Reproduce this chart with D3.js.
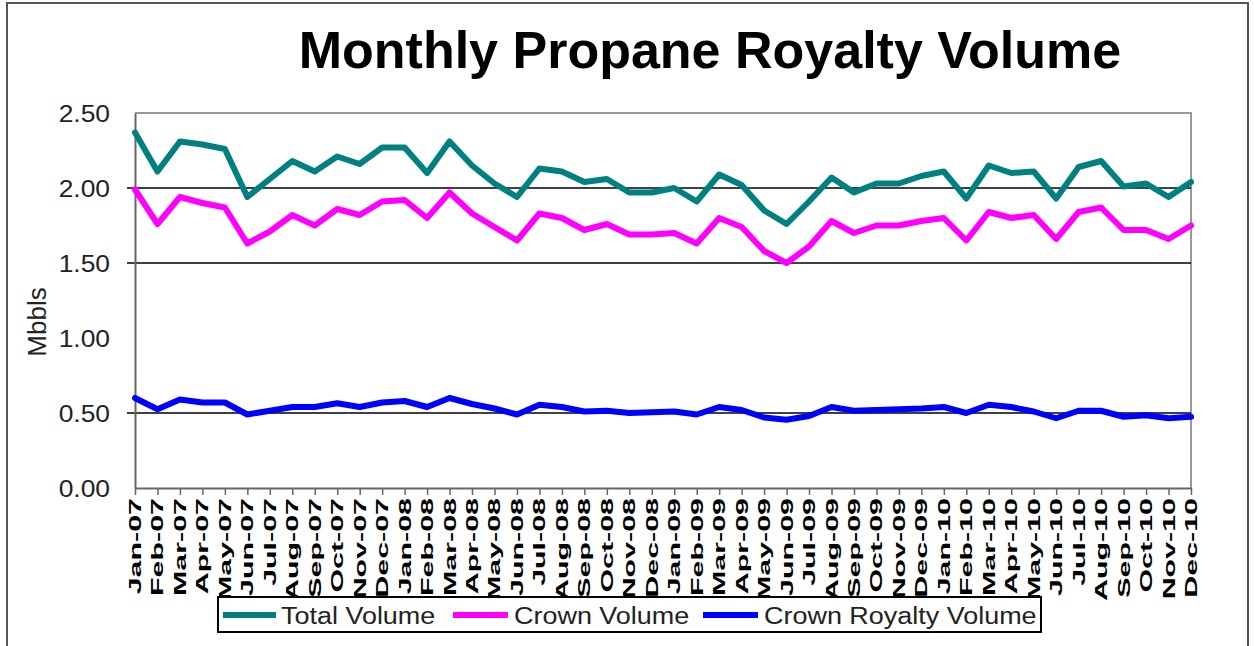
<!DOCTYPE html>
<html>
<head>
<meta charset="utf-8">
<script src="https://cdn.jsdelivr.net/npm/d3@7"></script>
<style>
  html, body { margin: 0; padding: 0; background: #fff; }
  svg { display: block; }
  text { font-family: "Liberation Sans", Arial, sans-serif; }
</style>
</head>
<body>
<div id="chart"></div>
<script>
let width = 1254,
    height = 646;

// monthly categories Jan-07 .. Dec-10
let months = ["Jan-07", "Feb-07", "Mar-07", "Apr-07", "May-07", "Jun-07", "Jul-07", "Aug-07", "Sep-07", "Oct-07", "Nov-07", "Dec-07",
    "Jan-08", "Feb-08", "Mar-08", "Apr-08", "May-08", "Jun-08", "Jul-08", "Aug-08", "Sep-08", "Oct-08", "Nov-08", "Dec-08",
    "Jan-09", "Feb-09", "Mar-09", "Apr-09", "May-09", "Jun-09", "Jul-09", "Aug-09", "Sep-09", "Oct-09", "Nov-09", "Dec-09",
    "Jan-10", "Feb-10", "Mar-10", "Apr-10", "May-10", "Jun-10", "Jul-10", "Aug-10", "Sep-10", "Oct-10", "Nov-10", "Dec-10"];

let totalVolume = [2.37, 2.11, 2.31, 2.29, 2.26, 1.94, 2.06, 2.18, 2.11, 2.21, 2.16, 2.27,
    2.27, 2.10, 2.31, 2.15, 2.03, 1.94, 2.13, 2.11, 2.04, 2.06, 1.97, 1.97,
    2.00, 1.91, 2.09, 2.02, 1.85, 1.76, 1.91, 2.07, 1.97, 2.03, 2.03, 2.08,
    2.11, 1.93, 2.15, 2.10, 2.11, 1.93, 2.14, 2.18, 2.01, 2.03, 1.94, 2.04];

let crownVolume = [1.99, 1.76, 1.94, 1.90, 1.87, 1.63, 1.71, 1.82, 1.75, 1.86, 1.82, 1.91,
    1.92, 1.80, 1.97, 1.83, 1.74, 1.65, 1.83, 1.80, 1.72, 1.76, 1.69, 1.69,
    1.70, 1.63, 1.80, 1.74, 1.58, 1.50, 1.61, 1.78, 1.70, 1.75, 1.75, 1.78,
    1.80, 1.65, 1.84, 1.80, 1.82, 1.66, 1.84, 1.87, 1.72, 1.72, 1.66, 1.75];

let crownRoyaltyVolume = [0.60, 0.525, 0.59, 0.57, 0.57, 0.49, 0.515, 0.54, 0.54, 0.565, 0.54, 0.57,
    0.58, 0.54, 0.60, 0.56, 0.53, 0.49, 0.555, 0.54, 0.51, 0.515, 0.50, 0.505,
    0.51, 0.49, 0.54, 0.52, 0.47, 0.455, 0.48, 0.54, 0.515, 0.52, 0.525, 0.53,
    0.54, 0.50, 0.555, 0.54, 0.51, 0.465, 0.515, 0.515, 0.475, 0.485, 0.465, 0.475];

let yTicks = [0, 0.5, 1.0, 1.5, 2.0, 2.5];
let gridValues = [0.5, 1.5, 2.0];

let series = [
    {name: "Total Volume", values: totalVolume, color: "#008080"},
    {name: "Crown Volume", values: crownVolume, color: "#ff00ff"},
    {name: "Crown Royalty Volume", values: crownRoyaltyVolume, color: "#0000ff"}
];

let plot = {left: 135, right: 1191, top: 113, bottom: 488};

let svg = d3.select("#chart").append("svg")
    .attr("width", width)
    .attr("height", height);

// outer frame
svg.append("rect")
    .attr("x", 7).attr("y", 3)
    .attr("width", 1241).attr("height", 670)
    .attr("fill", "none")
    .attr("stroke", "#555")
    .attr("stroke-width", 2);

let x = d3.scalePoint()
    .domain(months)
    .range([plot.left, plot.right]);

let y = d3.scaleLinear()
    .domain([0, 2.5])
    .range([plot.bottom, plot.top]);

// title
svg.append("text")
    .attr("x", 710)
    .attr("y", 68)
    .attr("text-anchor", "middle")
    .attr("font-size", 52)
    .attr("font-weight", "bold")
    .attr("fill", "#000")
    .text("Monthly Propane Royalty Volume");

// plot frame (top and right)
svg.append("path")
    .attr("d", "M" + plot.left + "," + plot.top + "H" + plot.right + "V" + plot.bottom)
    .attr("fill", "none")
    .attr("stroke", "#999")
    .attr("stroke-width", 2);

// gridlines
svg.selectAll(".grid")
    .data(gridValues)
    .enter().append("line")
    .attr("class", "grid")
    .attr("x1", plot.left - 8)
    .attr("x2", plot.right)
    .attr("y1", d => y(d))
    .attr("y2", d => y(d))
    .attr("stroke", "#000")
    .attr("stroke-width", 1.5);

// y axis
let yAxis = svg.append("g")
    .attr("transform", "translate(" + plot.left + ",0)")
    .call(d3.axisLeft(y).tickValues(yTicks).tickSize(0).tickPadding(25).tickFormat(d3.format(".2f")));
yAxis.select(".domain").attr("stroke", "#666").attr("stroke-width", 2);
yAxis.selectAll("text")
    .attr("font-size", 24)
    .attr("fill", "#222")
    .attr("font-family", "Liberation Sans, Arial, sans-serif")
    .attr("dy", "0.36em")
    .attr("transform", "translate(-25,0) scale(1.1,1) translate(25,0)");

// y axis title
svg.append("text")
    .attr("transform", "translate(46,322) rotate(-90)")
    .attr("text-anchor", "middle")
    .attr("font-size", 26)
    .attr("fill", "#222")
    .text("Mbbls");

// x axis
let xAxis = svg.append("g")
    .attr("transform", "translate(0," + plot.bottom + ")")
    .call(d3.axisBottom(x).tickSize(7).tickSizeOuter(0).tickFormat(""));
xAxis.select(".domain").attr("stroke", "#666").attr("stroke-width", 2);
xAxis.selectAll(".tick line").attr("stroke", "#666").attr("stroke-width", 1.5);

// rotated month labels
svg.selectAll(".month")
    .data(months)
    .enter().append("text")
    .attr("class", "month")
    .attr("text-anchor", "end")
    .attr("font-size", 16)
    .attr("font-weight", "bold")
    .attr("fill", "#000")
    .attr("transform", d => "translate(" + (x(d) + 6) + ",498) rotate(-90) scale(1.9,1)")
    .text(d => d);

// series lines
let line = d3.line()
    .x((d, i) => x(months[i]))
    .y(d => y(d));

svg.selectAll(".series")
    .data(series)
    .enter().append("path")
    .attr("class", "series")
    .attr("d", d => line(d.values))
    .attr("fill", "none")
    .attr("stroke", d => d.color)
    .attr("stroke-width", 6)
    .attr("stroke-linejoin", "round")
    .attr("stroke-linecap", "round");

// legend
let legend = svg.append("g");
legend.append("rect")
    .attr("x", 218).attr("y", 597)
    .attr("width", 823).attr("height", 35)
    .attr("fill", "#fff")
    .attr("stroke", "#000")
    .attr("stroke-width", 2);

let legendLine = [[223, 276], [453, 508], [703, 758]];
let legendText = [281, 514, 764];
let legendItems = legend.selectAll(".item")
    .data(series)
    .enter().append("g")
    .attr("class", "item");
legendItems.append("line")
    .attr("x1", (d, i) => legendLine[i][0])
    .attr("x2", (d, i) => legendLine[i][1])
    .attr("y1", 615).attr("y2", 615)
    .attr("stroke", d => d.color)
    .attr("stroke-width", 6);
legendItems.append("text")
    .attr("dy", "0.36em")
    .attr("font-size", 24.5)
    .attr("fill", "#222")
    .attr("transform", (d, i) => "translate(" + legendText[i] + ",615) scale(1.1,1)")
    .text(d => d.name);
</script>
</body>
</html>
